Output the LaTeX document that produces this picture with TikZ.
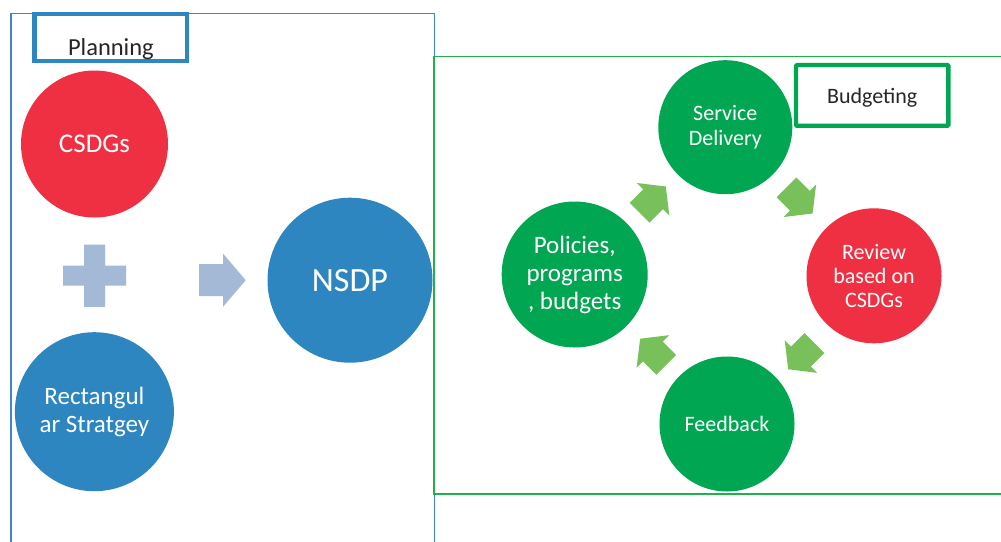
\documentclass[tikz,border=0pt]{standalone}
\usepackage{fontspec}
\setmainfont{Carlito}
\definecolor{cred}{HTML}{EF2F42}
\definecolor{cblue}{HTML}{2E86C1}
\definecolor{cgreen}{HTML}{00A651}
\definecolor{carrow}{HTML}{78C05A}
\definecolor{cpale}{HTML}{A3B9D6}
\definecolor{cframeblue}{HTML}{3B87C9}
\definecolor{cframegreen}{HTML}{1EB14D}
\definecolor{ctext}{HTML}{262626}
\begin{document}
\begin{tikzpicture}[x=1pt,y=-1pt,
  circ/.style={circle, inner sep=0pt, text=white, align=center},
  titlebox/.style={rectangle, inner sep=0pt, text=ctext, anchor=base, line width=4.3pt},
  cyclearrow/.pic={\fill[carrow] (-18.5,-14) -- (0.5,-14) -- (0.5,-23) -- (18.5,0) -- (0.5,23) -- (0.5,14) -- (-18.5,14) -- cycle;}
]
\useasboundingbox (0,0) rectangle (1001,541);
\clip (0,0) rectangle (1001,541);
\fill[white] (0,0) rectangle (1001,541);

% frames
\draw[cframeblue, line width=1.3pt] (11,13.5) rectangle (434.5,600);
\draw[cframegreen, line width=1.8pt] (434,56.5) rectangle (1060,494);

% titles
\node[titlebox, draw=cblue, minimum width=152.8, text height=41.3pt, text depth=6pt,
      font=\fontsize{24.5}{29}\selectfont] (planning) at (110.9,55) {Planning};
\node[titlebox, draw=cgreen, rounded corners=1pt, minimum width=152.3, text height=38.3pt, text depth=22.5pt,
      font=\fontsize{22}{26}\selectfont] (budgeting) at (872.2,103.3) {Budgeting};

% planning side
\node[circ, fill=cred, minimum size=147, font=\fontsize{27}{32}\selectfont] (csdgs) at (94.5,144) {CSDGs};
\node[circ, fill=cblue, minimum size=159, font=\fontsize{25}{27.6}\selectfont] (rect) at (94.4,411.7) {Rectangul\\ar Stratgey};
\node[circ, fill=cblue, minimum size=165, font=\fontsize{34}{40}\selectfont] (nsdp) at (350,280.2) {NSDP};

% plus sign
\fill[cpale] (63,265.7) -- (84,265.7) -- (84,244.7) -- (105,244.7) -- (105,265.7) -- (126,265.7)
  -- (126,285.7) -- (105,285.7) -- (105,306.8) -- (84,306.8) -- (84,285.7) -- (63,285.7) -- cycle;
% right arrow
\fill[cpale] (199,264) -- (223,264) -- (223,253.6) -- (245.7,280.2) -- (223,306.8) -- (223,296) -- (199,296) -- cycle;

% budgeting cycle
\node[circ, fill=cgreen, minimum size=134, font=\fontsize{22}{25}\selectfont] (service) at (725.3,127.2) {Service\\Delivery};
\node[circ, fill=cred, minimum size=135, font=\fontsize{22}{24}\selectfont] (review) at (874,275.8) {Review\\based on\\CSDGs};
\node[circ, fill=cgreen, minimum size=135, font=\fontsize{22}{25}\selectfont] (feedback) at (727,424) {Feedback};
\node[circ, fill=cgreen, minimum size=146, font=\fontsize{25}{28}\selectfont] (policies) at (574.7,274.5) {Policies,\\programs\\, budgets};

\pic[rotate=45] at (652.7,199.6) {cyclearrow};
\pic[rotate=-45] at (799.5,200.4) {cyclearrow};
\pic[rotate=-135] at (801.3,356.2) {cyclearrow};
\pic[rotate=135] at (653.2,351.8) {cyclearrow};
\end{tikzpicture}
\end{document}
